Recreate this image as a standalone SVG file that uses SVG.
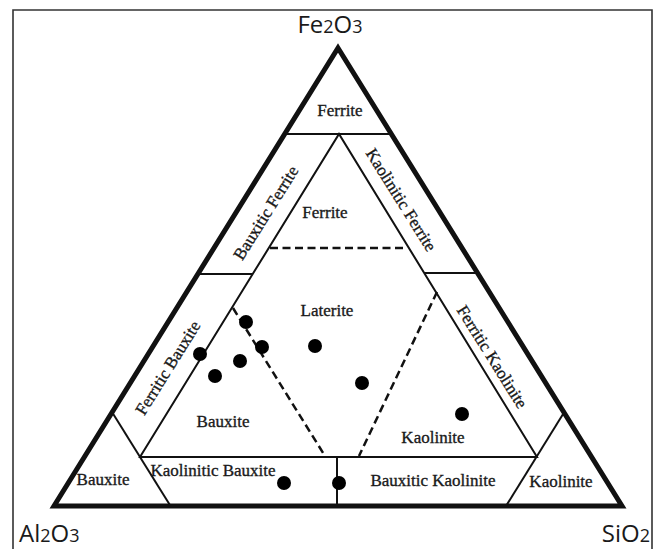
<svg xmlns="http://www.w3.org/2000/svg" width="662" height="549" viewBox="0 0 662 549">
  <style>
    .frame { fill: none; stroke: #333; stroke-width: 1.6; }
    .outer { fill: none; stroke: #111; stroke-width: 5; stroke-linejoin: miter; stroke-miterlimit: 10; }
    .thin { fill: none; stroke: #111; stroke-width: 2; }
    .dash { fill: none; stroke: #111; stroke-width: 2.5; stroke-dasharray: 8 4.5; }
    .lbl { font-family: "Liberation Serif", "Times New Roman", serif; font-size: 17px; fill: #1a1a1a; stroke: #1a1a1a; stroke-width: 0.35; text-anchor: middle; }
    .axis { font-family: "Open Sans", "Noto Sans", sans-serif; font-size: 24px; fill: #1a1a1a; }
    .sub { font-size: 18px; }
    .pt { fill: #000; }
  </style>

  <path id="frame" class="frame" d="M13,560 L13,10 L652,10 L652,560"/>

  <g id="axes">
    <text id="ax-fe" class="axis" x="330" y="33" text-anchor="middle">Fe<tspan class="sub">2</tspan>O<tspan class="sub">3</tspan></text>
    <text id="ax-al" class="axis" x="19" y="542">Al<tspan class="sub">2</tspan>O<tspan class="sub">3</tspan></text>
    <text id="ax-si" class="axis" x="650" y="542" text-anchor="end">SiO<tspan class="sub">2</tspan></text>
  </g>

  <g id="connectors">
    <path id="outer-triangle" class="outer" d="M338,48 L622,506 L54,506 Z"/>
    <g id="boundaries">
      <line class="thin" x1="284" y1="134" x2="392" y2="134"/>
      <path class="thin" d="M140,457 L339,134 L537,457 Z"/>
      <line class="thin" x1="197" y1="274" x2="253" y2="274"/>
      <line class="thin" x1="424" y1="273" x2="478" y2="273"/>
      <line class="thin" x1="112" y1="412" x2="170.5" y2="506"/>
      <line class="thin" x1="564" y1="412.5" x2="506" y2="506"/>
      <line class="thin" x1="337" y1="457" x2="337" y2="506"/>
    </g>
    <g id="dashed">
      <line class="dash" x1="270" y1="248" x2="406" y2="248"/>
      <line class="dash" x1="233" y1="308" x2="325" y2="456"/>
      <line class="dash" x1="437" y1="292" x2="359" y2="456"/>
    </g>
  </g>

  <g id="fields">
    <g id="ferrite-top"><text class="lbl" x="340" y="116">Ferrite</text></g>
    <g id="ferrite-inner"><text class="lbl" x="325" y="218">Ferrite</text></g>
    <g id="bauxitic-ferrite"><text class="lbl" transform="translate(266,213) rotate(-58)" x="0" y="5.5">Bauxitic Ferrite</text></g>
    <g id="kaolinitic-ferrite"><text class="lbl" transform="translate(401,200) rotate(58)" x="0" y="5.5">Kaolinitic Ferrite</text></g>
    <g id="laterite"><text class="lbl" x="327" y="316">Laterite</text></g>
    <g id="ferritic-bauxite"><text class="lbl" transform="translate(168,368) rotate(-58)" x="0" y="5.5">Ferritic Bauxite</text></g>
    <g id="ferritic-kaolinite"><text class="lbl" transform="translate(492,357) rotate(58)" x="0" y="5.5">Ferritic Kaolinite</text></g>
    <g id="bauxite-inner"><text class="lbl" x="223" y="427">Bauxite</text></g>
    <g id="kaolinite-inner"><text class="lbl" x="433" y="443">Kaolinite</text></g>
    <g id="bauxite-corner"><text class="lbl" x="103" y="485">Bauxite</text></g>
    <g id="kaolinite-corner"><text class="lbl" x="561" y="487">Kaolinite</text></g>
    <g id="kaolinitic-bauxite"><text class="lbl" x="213" y="476">Kaolinitic Bauxite</text></g>
    <g id="bauxitic-kaolinite"><text class="lbl" x="433" y="486">Bauxitic Kaolinite</text></g>
  </g>

  <g id="samples">
    <circle class="pt" cx="246" cy="322" r="7"/>
    <circle class="pt" cx="262" cy="347" r="7"/>
    <circle class="pt" cx="240" cy="361" r="7"/>
    <circle class="pt" cx="200" cy="354" r="7"/>
    <circle class="pt" cx="215" cy="376" r="7"/>
    <circle class="pt" cx="315" cy="346" r="7"/>
    <circle class="pt" cx="362" cy="383" r="7"/>
    <circle class="pt" cx="462" cy="414" r="7"/>
    <circle class="pt" cx="284" cy="483" r="7"/>
    <circle class="pt" cx="339" cy="483" r="7"/>
  </g>
</svg>
